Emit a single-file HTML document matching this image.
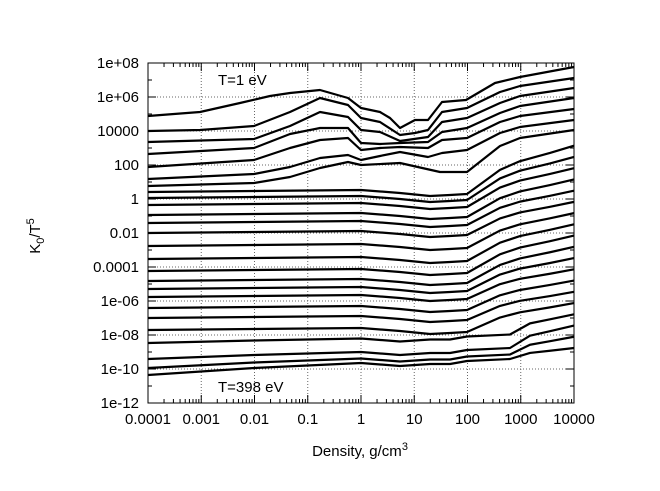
<!DOCTYPE html><html><head><style>body{margin:0;background:#fff}svg{display:block}text{font-family:"Liberation Sans",sans-serif;fill:#000}</style></head><body>
<svg id="s" width="660" height="491" xmlns="http://www.w3.org/2000/svg"></svg>
<script>
(function(){
const s=document.getElementById('s');let h='';
const X0=148,X1=574,Y0=63,Y1=403,dx=(X1-X0)/8,dy=(Y1-Y0)/10;
for(let i=1;i<8;i++){const x=X0+i*dx;h+=`<line x1="${x}" y1="${Y0}" x2="${x}" y2="${Y1}" stroke="#666" stroke-width="1" stroke-dasharray="1,2"/>`;}
for(let i=1;i<10;i++){const y=Y0+i*dy;h+=`<line x1="${X0}" y1="${y}" x2="${X1}" y2="${y}" stroke="#666" stroke-width="1" stroke-dasharray="1,2"/>`;}
for(let i=0;i<=8;i++){const x=X0+i*dx;h+=`<line x1="${x}" y1="${Y1}" x2="${x}" y2="${Y1-8}" stroke="#000"/><line x1="${x}" y1="${Y0}" x2="${x}" y2="${Y0+8}" stroke="#000"/>`;
 if(i<8)for(let k=2;k<10;k++){const xm=x+Math.log10(k)*dx;h+=`<line x1="${xm}" y1="${Y1}" x2="${xm}" y2="${Y1-4}" stroke="#000"/><line x1="${xm}" y1="${Y0}" x2="${xm}" y2="${Y0+4}" stroke="#000"/>`;}}
for(let i=0;i<=20;i++){const y=Y0+i*dy/2,l=i%2?4:8;h+=`<line x1="${X0}" y1="${y}" x2="${X0+l}" y2="${y}" stroke="#000"/><line x1="${X1}" y1="${y}" x2="${X1-l}" y2="${y}" stroke="#000"/>`;}
const yl=["1e+08","1e+06","10000","100","1","0.01","0.0001","1e-06","1e-08","1e-10","1e-12"];
yl.forEach((t,i)=>h+=`<text x="${X0-9}" y="${Y0+i*dy+5}" font-size="15" text-anchor="end">${t}</text>`);
const xl=["0.0001","0.001","0.01","0.1","1","10","100","1000","10000"];
xl.forEach((t,i)=>h+=`<text x="${X0+i*dx}" y="424" font-size="15" text-anchor="middle">${t}</text>`);
h+=`<text x="360" y="456" font-size="15" text-anchor="middle">Density, g/cm<tspan font-size="11" dy="-6">3</tspan></text>`;
h+=`<text transform="translate(40,236) rotate(-90)" font-size="15" text-anchor="middle">K<tspan font-size="11" dy="4">0</tspan><tspan dy="-4">/T</tspan><tspan font-size="11" dy="-6">5</tspan></text>`;
h+=`<text x="218" y="85" font-size="15">T=1 eV</text><text x="218" y="392" font-size="15">T=398 eV</text>`;
const tp=[
[[148,116],[200,112],[240,103],[270,96],[290,93],[320,90],[348,98],[361,108],[380,112],[390,118],[400,128],[415,120],[428,120],[442,102],[466,100],[495,83],[520,77],[574,67]],
[[148,131],[200,130],[254,126],[290,112],[320,98],[348,105],[361,118],[380,122],[400,135],[415,133],[428,130],[442,112],[467,108],[500,92],[520,86],[574,78]],
[[148,142],[254,139],[290,126],[320,112],[348,117],[361,130],[380,132],[400,141],[428,137],[442,122],[467,118],[500,103],[520,96],[574,88]],
[[148,154],[254,148],[290,134],[320,128],[348,128],[361,143],[380,144],[400,143],[428,142],[442,132],[467,128],[500,113],[520,106],[574,98]],
[[148,167],[254,160],[290,148],[320,140],[348,138],[361,150],[380,148],[400,147],[428,148],[442,140],[467,138],[500,122],[520,116],[574,109]],
[[148,179],[254,174],[290,167],[320,158],[348,155],[361,160],[380,156],[400,152],[428,157],[442,153],[467,150],[500,133],[520,127],[574,120]],
[[148,186],[254,183],[290,177],[320,168],[348,162],[361,165],[400,163],[440,172],[467,172],[500,146],[520,138],[574,130]]];
const L=[116,131,142,154,167,179,186,192,198,205,215,223,233,246,259,271,281,289,297,308,318,330,343,359,368,375];
let paths=tp.slice();
for(let i=7;i<26;i++){const l=L[i],R=67+i*11.24;
 const y361=l-2-(i>=22?(i-21)*2.5:0),late=i>=22,y467=y361+(late?-2:4);
 let p=[[148,l],[254,l-1-(i>=22?(i-21)*1.5:0)],[361,y361],[400,y361+3],[430,y361+(late?1:6)],[450,y361+(late?1:5)],[467,y467]];
 if(!late){const d=y467-R;p.push([500,y467-d*.5],[520,y467-d*.68],[550,y467-d*.85],[574,R]);}
 else{const y510=y467-2,d=y510-R;p.push([510,y510],[530,y510-d*.55],[550,y510-d*.75],[574,R]);}
 paths.push(p);}
paths.forEach(p=>h+=`<polyline points="${p.map(q=>q.join(',')).join(' ')}" fill="none" stroke="#000" stroke-width="2.2" stroke-linejoin="round"/>`);
h+=`<rect x="${X0}" y="${Y0}" width="${X1-X0}" height="${Y1-Y0}" fill="none" stroke="#000" stroke-width="1"/>`;
s.innerHTML=h;
})();
</script></body></html>
